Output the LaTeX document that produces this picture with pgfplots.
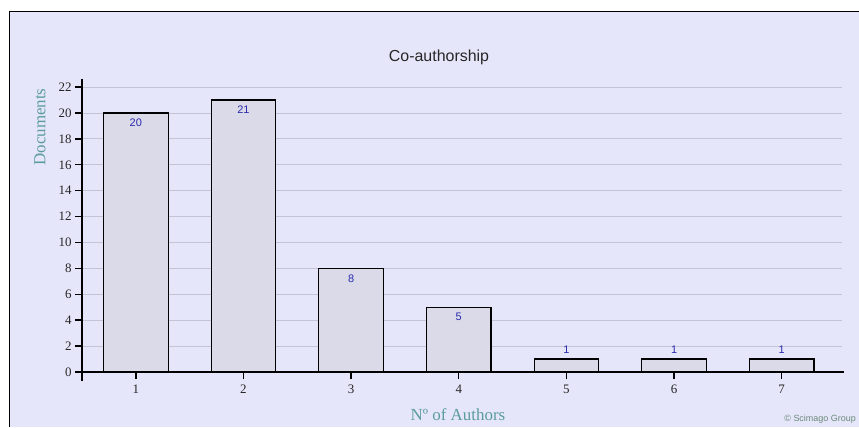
\documentclass[border=0pt]{standalone}
\usepackage{pgfplots}
\pgfplotsset{compat=1.18}
\usepackage{fontspec}
\setmainfont{Liberation Serif}
\newfontfamily\arial{Liberation Sans}

\definecolor{bgpanel}{HTML}{E6E6FA}
\definecolor{barfill}{HTML}{DADAE8}
\definecolor{gridc}{HTML}{C4C4D4}
\definecolor{labteal}{HTML}{5A9C9C}
\definecolor{valblue}{HTML}{2A2AB0}
\definecolor{copyc}{HTML}{6A8A7A}

\begin{document}
\begin{tikzpicture}[x=1bp,y=1bp]
\useasboundingbox (0,0) rectangle (859,427);
\clip (0,0) rectangle (859,427);
\fill[white] (0,0) rectangle (859,427);
\fill[bgpanel] (9,0) rectangle (859,415);
\draw[black, line width=1.2bp] (9.5,0) -- (9.5,415.5) -- (859,415.5);

\begin{axis}[
    at={(82bp,55bp)}, anchor=south west,
    scale only axis,
    width=760bp, height=291.4bp,
    xmin=0.5, xmax=7.56,
    ymin=0, ymax=22.5,
    axis x line*=bottom, axis y line*=left,
    axis line style={draw=none},
    xtick={1,...,7},
    ytick={0,2,...,22},
    tick align=outside,
    major tick length=7bp,
    tick style={black, line width=1.4bp},
    ymajorgrids,
    grid style={gridc, line width=0.8bp},
    /pgf/number format/assume math mode=true,
    ticklabel style={font=\fontsize{13}{13}\selectfont, text=black!85},
    xticklabel style={yshift=-2bp},
    ybar, bar width=0.6, bar shift=0pt,
    clip=false,
]
\addplot[fill=barfill, draw=black, line width=1.2bp,
    nodes near coords,
    nodes near coords style={font=\arial\fontsize{11}{11}\selectfont, text=valblue, anchor=center, yshift=-10bp}]
    coordinates {(1,20) (2,21) (3,8) (4,5)};
\addplot[fill=barfill, draw=black, line width=1.2bp,
    nodes near coords,
    nodes near coords style={font=\arial\fontsize{11}{11}\selectfont, text=valblue, anchor=center, yshift=9bp}]
    coordinates {(5,1) (6,1) (7,1)};
\draw[black, line width=2.6bp] (axis cs:0.5,-0.7) -- (axis cs:0.5,22.6);
\draw[black, line width=2.6bp] (axis cs:0.5,0) -- (axis cs:7.58,0);
\end{axis}

\node[font=\arial\fontsize{16}{16}\selectfont, text=black!85] at (439,370) {Co-authorship};
\node[font=\fontsize{17}{17}\selectfont, text=labteal, rotate=90] at (40,300) {Documents};
\node[font=\fontsize{17}{17}\selectfont, text=labteal] at (458,12) {Nº of Authors};
\node[font=\arial\fontsize{9}{9}\selectfont, text=copyc, anchor=south east, inner sep=1bp] at (857,2) {© Scimago Group};
\end{tikzpicture}
\end{document}
